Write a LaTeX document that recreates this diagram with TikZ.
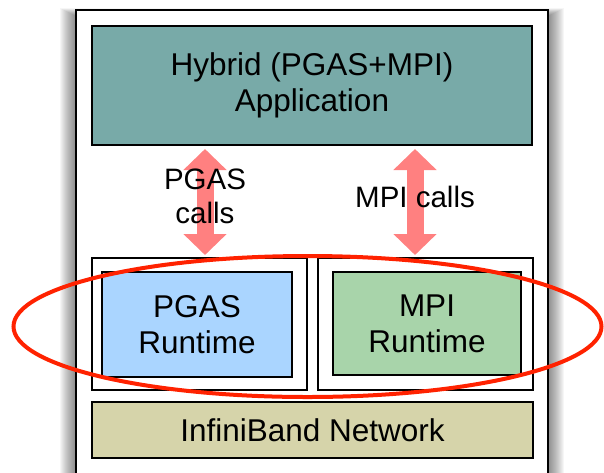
\documentclass[tikz,border=0pt]{standalone}
\usepackage{fontspec}
\setmainfont{Liberation Sans}
\usetikzlibrary{arrows.meta}
\definecolor{appteal}{HTML}{78AAA8}
\definecolor{pgasblue}{HTML}{AAD5FF}
\definecolor{mpigreen}{HTML}{A8D4AA}
\definecolor{ibtan}{HTML}{D6D4AA}
\definecolor{arrowred}{HTML}{FF8080}
\definecolor{ellred}{HTML}{FF2200}
\tikzset{
  box/.style={draw=black, line width=2pt, inner sep=0pt, align=center,
              font=\fontsize{31.5}{36}\selectfont},
  dblarrow/.style={draw=arrowred, line width=17pt, <->,
              >={Triangle[width=42pt,length=21pt]}},
  calltext/.style={align=center, inner sep=0pt, font=\fontsize{29.5}{34}\selectfont},
  ring/.style={draw=ellred, line width=4pt}
}
\begin{document}
\begin{tikzpicture}[x=1pt,y=-1pt]
\useasboundingbox (0,0) rectangle (604,472);
% soft shadow of the frame
\foreach \i in {1,...,16}
  \fill[black, opacity=0.035] (76-\i,16-\i*0.5) rectangle (548+\i,520);
% frame
\node[draw=black, fill=white, line width=2.5pt, minimum width=472pt, minimum height=490pt,
      inner sep=0pt] (frame) at (312,255) {};
% application box
\node[box, fill=appteal, minimum width=440pt, minimum height=119pt] (app) at (312,85.5)
  {Hybrid (PGAS+MPI)\\Application};
% arrows
\coordinate (pa1) at (205,149);
\coordinate (pa2) at (205,255);
\coordinate (ma1) at (415,149);
\coordinate (ma2) at (415,255);
\draw[dblarrow] (pa1) -- (pa2);
\draw[dblarrow] (ma1) -- (ma2);
\node[calltext] (pcalls) at (205,196) {PGAS\\calls};
\node[calltext] (mcalls) at (415,197) {MPI calls};
% runtime boxes
\node[box, fill=white, minimum width=215pt, minimum height=132pt] (pgasout) at (199.5,324) {};
\node[box, fill=white, minimum width=215pt, minimum height=132pt] (mpiout) at (425.5,324) {};
\node[box, fill=pgasblue, minimum width=190pt, minimum height=105pt] (pgas) at (197,324.5)
  {PGAS\\Runtime};
\node[box, fill=mpigreen, minimum width=188pt, minimum height=103pt] (mpi) at (427,323.5)
  {MPI\\Runtime};
% network
\node[box, fill=ibtan, minimum width=441pt, minimum height=56pt] (ib) at (312.5,430)
  {InfiniBand Network};
% highlight ellipse
\draw[ring] (307.5,326.5) ellipse [x radius=294pt, y radius=70.5pt];
\end{tikzpicture}
\end{document}
